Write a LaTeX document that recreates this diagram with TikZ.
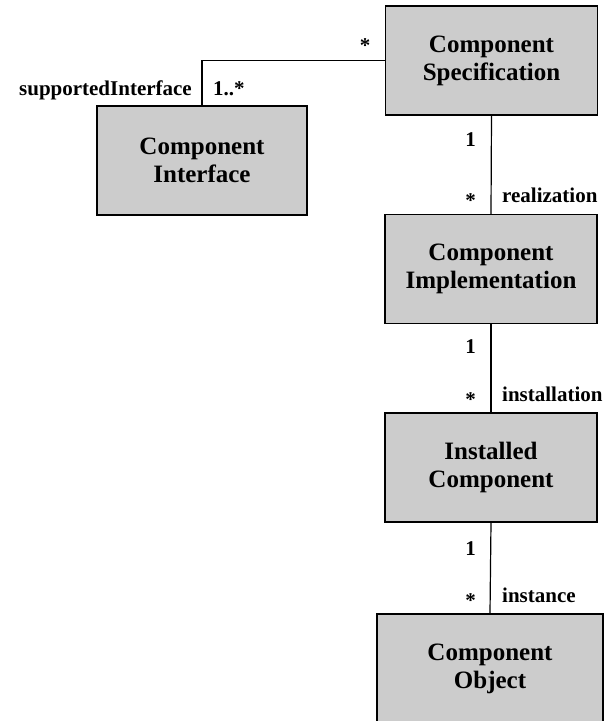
\documentclass[tikz,border=0pt]{standalone}
\usepackage{fontspec}
\setmainfont{Liberation Serif}
\newcommand{\lowstar}{\raisebox{-0.28em}{*}}
\begin{document}
\begin{tikzpicture}[x=1pt,y=-1pt,
  classbox/.style={draw=black, line width=1.4pt, fill=gray!40,
    minimum width=212pt, minimum height=109pt, inner sep=0pt,
    align=center, font=\fontsize{25}{28}\selectfont\bfseries},
  assoc/.style={draw=black, line width=1.2pt},
  role/.style={inner sep=0pt, font=\fontsize{21}{24}\selectfont\bfseries}]
  \useasboundingbox (0,0) rectangle (607,721);

  % classes
  \node[classbox] (spec)  at (491.5,60.5) {Component\\Specification};
  \node[classbox, minimum width=210pt] (iface) at (202,160.5) {Component\\Interface};
  \node[classbox] (impl)  at (491,269) {Component\\Implementation};
  \node[classbox] (inst)  at (491,467.5) {Installed\\Component};
  \node[classbox, minimum width=226pt] (obj) at (490,668.5) {Component\\Object};

  % associations
  \draw[assoc] (iface.north) |- (spec.west);
  \draw[assoc] (spec.south) -- (impl.north);
  \draw[assoc] (impl.south) -- (inst.north);
  \draw[assoc] (inst.south) -- (obj.north);

  % roles and multiplicities
  \node[role, anchor=base east] (l1) at (192,95) {supportedInterface};
  \node[role, anchor=base west] (l2) at (213,95) {1..*};
  \node[role, anchor=base] (l3) at (365,52) {*};

  \node[role, anchor=base east] (m1) at (476,146) {1};
  \node[role, anchor=base east] (m2) at (476,202) {\lowstar};
  \node[role, anchor=base west] (r1) at (502,202) {realization};

  \node[role, anchor=base east] (m3) at (476,353) {1};
  \node[role, anchor=base east] (m4) at (476,401) {\lowstar};
  \node[role, anchor=base west] (r2) at (502,401) {installation};

  \node[role, anchor=base east] (m5) at (476,555) {1};
  \node[role, anchor=base east] (m6) at (476,602) {\lowstar};
  \node[role, anchor=base west] (r3) at (502,602) {instance};
\end{tikzpicture}
\end{document}
